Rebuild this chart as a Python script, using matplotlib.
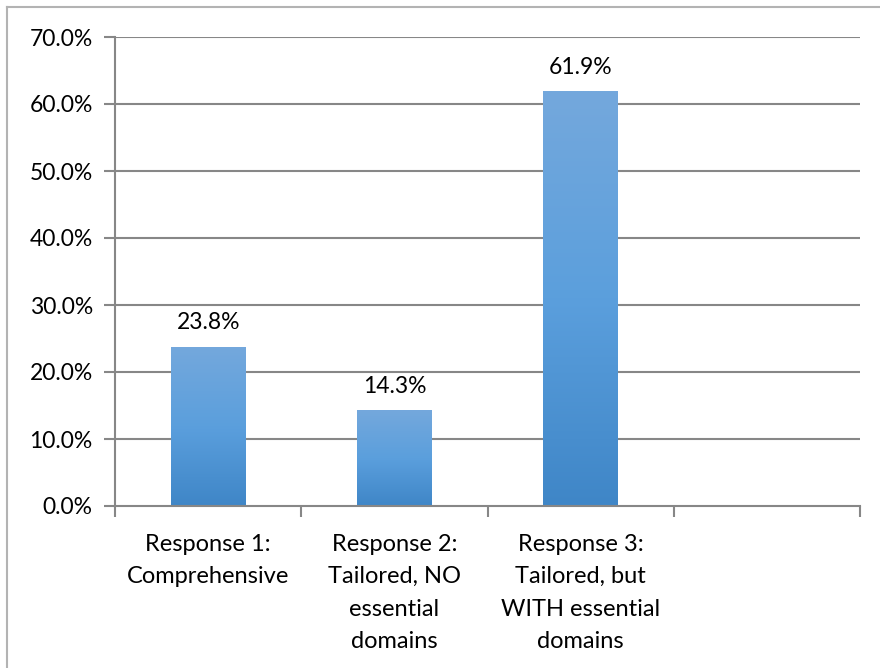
import matplotlib.pyplot as plt
import numpy as np
from matplotlib.colors import LinearSegmentedColormap
from matplotlib.lines import Line2D

plt.rcParams['font.family'] = ['Lato', 'DejaVu Sans']

# Share of responses per category (the fourth slot is left empty)
categories = ["Response 1:\nComprehensive",
              "Response 2:\nTailored, NO\nessential\ndomains",
              "Response 3:\nTailored, but\nWITH essential\ndomains",
              ""]
values = [23.8, 14.3, 61.9]
yticks = [0, 10, 20, 30, 40, 50, 60, 70]

fig = plt.figure(figsize=(8.8, 6.68), dpi=100)
ax = fig.add_axes([115 / 880, 1 - 506 / 668, 745 / 880, 469 / 668])

grid_col = '#878787'
ax.set_xlim(0, len(categories))
ax.set_ylim(0, 70)

# horizontal gridlines
for t in yticks[1:]:
    ax.axhline(t, color=grid_col, lw=1.5, zorder=1)

# bars with a vertical blue gradient
cmap = LinearSegmentedColormap.from_list('bluegrad', ['#3f86c7', '#5b9fdd', '#74a8dc'])
grad = np.linspace(0, 1, 256).reshape(-1, 1)
x_pos = np.arange(len(values)) + 0.5
bars = ax.bar(x_pos, values, width=0.4, color='none', zorder=2)
for b, v in zip(bars, values):
    x0 = b.get_x()
    im = ax.imshow(grad, cmap=cmap, origin='lower', aspect='auto',
                   extent=[x0, x0 + b.get_width(), 0, v], zorder=2)
    im.set_clip_path(b)
    ax.text(b.get_x() + b.get_width() / 2, v + 2.0, f"{v:.1f}%",
            ha='center', va='bottom', fontsize=16.5, color='black')

ax.set_xlim(0, len(categories))
ax.set_ylim(0, 70)

# axes styling
for s in ['top', 'right']:
    ax.spines[s].set_visible(False)
for s in ['left', 'bottom']:
    ax.spines[s].set_color(grid_col)
    ax.spines[s].set_linewidth(1.5)

ax.set_yticks(yticks)
ax.set_yticklabels([f"{t:.1f}%" for t in yticks], fontsize=16.5)
ax.tick_params(axis='y', length=8, width=1.5, color=grid_col, pad=8)

ax.set_xticks(np.arange(len(categories)) + 0.5)
ax.set_xticklabels(categories, fontsize=17, linespacing=1.68, va='top')
ax.tick_params(axis='x', which='major', length=0, pad=20)
ax.set_xticks(np.arange(len(categories) + 1), minor=True)
ax.tick_params(axis='x', which='minor', length=8, width=1.5, color=grid_col)

# outer chart border (top and left edges visible)
fig.add_artist(Line2D([7 / 880, 7 / 880], [0, 1 - 7 / 668], transform=fig.transFigure,
                      color='#b3b3b3', lw=1.5))
fig.add_artist(Line2D([7 / 880, 1], [1 - 7 / 668, 1 - 7 / 668], transform=fig.transFigure,
                      color='#b3b3b3', lw=1.5))

fig.savefig('out.png', dpi=100)
